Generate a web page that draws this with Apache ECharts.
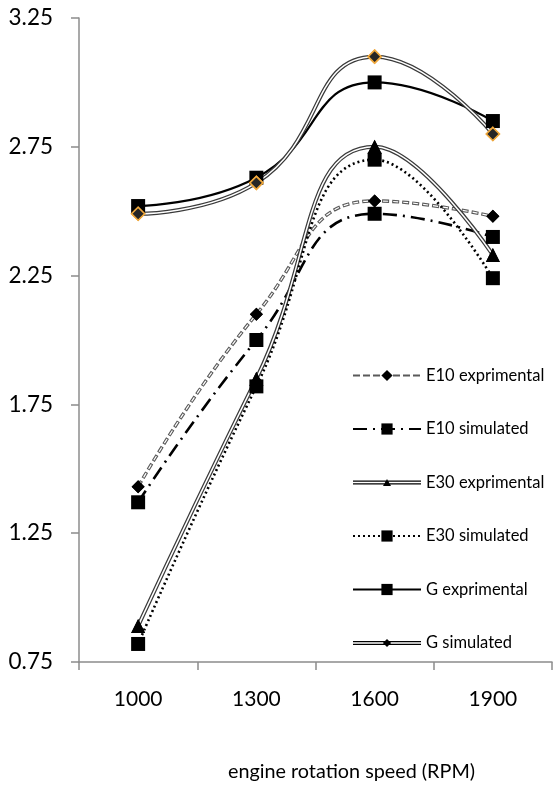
<!DOCTYPE html>
<html>
<head>
<meta charset="utf-8">
<script src="https://cdn.jsdelivr.net/npm/echarts@6/dist/echarts.min.js"></script>
<style>
  html, body { margin: 0; padding: 0; background: #fff; }
  #chart { width: 553px; height: 791px; }
</style>
</head>
<body>
<div id="chart"></div>
<script>
// ---- data ----
var categories = ['1000', '1300', '1600', '1900'];
var e10Exp = [1.43, 2.10, 2.54, 2.48];
var e10Sim = [1.37, 2.00, 2.49, 2.40];
var e30Exp = [0.89, 1.85, 2.75, 2.33];
var e30Sim = [0.82, 1.82, 2.70, 2.24];
var gExp   = [2.52, 2.63, 3.00, 2.85];
var gSim   = [2.49, 2.61, 3.10, 2.80];
var seriesNames = ['E10 exprimental', 'E10 simulated', 'E30 exprimental', 'E30 simulated', 'G exprimental', 'G simulated'];
var yMin = 0.75, yMax = 3.25, yStep = 0.5;
var xTitle = 'engine rotation speed (RPM)';
var yTitle = 'CO (%)';

var FONT = 'Lato, Carlito, "Open Sans", sans-serif';
var SMOOTH = 0.5;
var axisGray = '#8c8c8c';

function lineSeries(name, data, lineStyle, symbol, symbolSize, itemStyle, z) {
  return {
    name: name, type: 'line', data: data, smooth: SMOOTH,
    symbol: symbol, symbolSize: symbolSize, showSymbol: symbol !== 'none',
    lineStyle: lineStyle, itemStyle: itemStyle, z: z || 2,
    emphasis: { disabled: true }, silent: true
  };
}

var series = [
  // E10 exprimental: hollow dashed line with diamonds
  lineSeries(seriesNames[0], e10Exp, { color: '#5a5a5a', width: 3.4, type: [7, 3] }, 'diamond', 13, { color: '#000' }),
  lineSeries('_e10o', e10Exp, { color: '#fff', width: 1.2, type: [5, 5], dashOffset: -1 }, 'diamond', 13, { color: '#000' }),
  // E10 simulated: long dash-dot
  lineSeries(seriesNames[1], e10Sim, { color: '#000', width: 2.6, type: [14, 6, 2, 6] }, 'rect', 14, { color: '#000' }),
  // E30 exprimental: hollow double line with triangles
  lineSeries(seriesNames[2], e30Exp, { color: '#3a3a3a', width: 4 }, 'triangle', 14, { color: '#000' }),
  lineSeries('_e30o', e30Exp, { color: '#fff', width: 1.5 }, 'triangle', 14, { color: '#000' }),
  // E30 simulated: dotted
  lineSeries(seriesNames[3], e30Sim, { color: '#000', width: 2.6, type: [2, 3] }, 'rect', 14, { color: '#000' }),
  // G exprimental: solid
  lineSeries(seriesNames[4], gExp, { color: '#000', width: 2.2 }, 'rect', 14, { color: '#000' }),
  // G simulated: hollow double line with orange-edged diamonds
  lineSeries(seriesNames[5], gSim, { color: '#3a3a3a', width: 4 }, 'diamond', 13, { color: '#262626', borderColor: '#f0a83c', borderWidth: 1.5 }),
  lineSeries('_gso', gSim, { color: '#fff', width: 1.5 }, 'diamond', 13, { color: '#262626', borderColor: '#f0a83c', borderWidth: 1.5 })
];

var railTri = 'path://M0,5L68,5L68,6.2L0,6.2Z M0,7.8L68,7.8L68,9L0,9Z M30,10.5L34,3.5L38,10.5Z';
var railDia = 'path://M0,5L68,5L68,6.2L0,6.2Z M0,7.8L68,7.8L68,9L0,9Z M34,3L38,7L34,11L30,7Z';

var option = {
  animation: false,
  backgroundColor: '#fff',
  textStyle: { fontFamily: FONT },
  grid: { left: 79, right: 1, top: 18, bottom: 129, containLabel: false, outerBoundsMode: 'none' },
  legend: {
    orient: 'vertical', left: 352, top: 367, width: 200, padding: 0,
    itemWidth: 68, itemHeight: 14, itemGap: 36.5,
    icon: 'inherit',
    textStyle: { fontFamily: FONT, fontSize: 16.5, color: '#000', overflow: 'none' },
    selectedMode: false,
    data: [
      { name: seriesNames[0] },
      { name: seriesNames[1] },
      { name: seriesNames[2], icon: railTri, itemStyle: { color: '#000', borderWidth: 0 } },
      { name: seriesNames[3] },
      { name: seriesNames[4] },
      { name: seriesNames[5], icon: railDia, itemStyle: { color: '#000', borderWidth: 0 } }
    ]
  },
  xAxis: {
    type: 'category', data: categories, boundaryGap: true,
    name: xTitle, nameLocation: 'middle', nameGap: 100,
    nameTextStyle: { fontFamily: FONT, fontSize: 19.8, color: '#000', padding: [0, 0, 0, 72] },
    axisLine: { show: true, lineStyle: { color: axisGray, width: 1.5 } },
    axisTick: { show: true, alignWithLabel: false, length: 8, inside: false, lineStyle: { color: axisGray, width: 1.5 } },
    axisLabel: { fontFamily: FONT, fontSize: 21, color: '#000', margin: 27 },
    splitLine: { show: false }
  },
  yAxis: {
    type: 'value', min: yMin, max: yMax, interval: yStep,
    name: yTitle, nameLocation: 'middle', nameGap: 33, nameRotate: 90,
    nameTextStyle: { fontFamily: FONT, fontSize: 18.5, color: '#000' },
    axisLine: { show: true, lineStyle: { color: axisGray, width: 1.5 } },
    axisTick: { show: true, length: 8, inside: false, lineStyle: { color: axisGray, width: 1.5 } },
    axisLabel: { fontFamily: FONT, fontSize: 22.5, color: '#000', margin: 26, formatter: function (v) { return v.toFixed(2); } },
    splitLine: { show: false }
  },
  series: series
};

var chart = echarts.init(document.getElementById('chart'), null, { renderer: 'canvas' });
chart.setOption(option);
</script>
</body>
</html>
